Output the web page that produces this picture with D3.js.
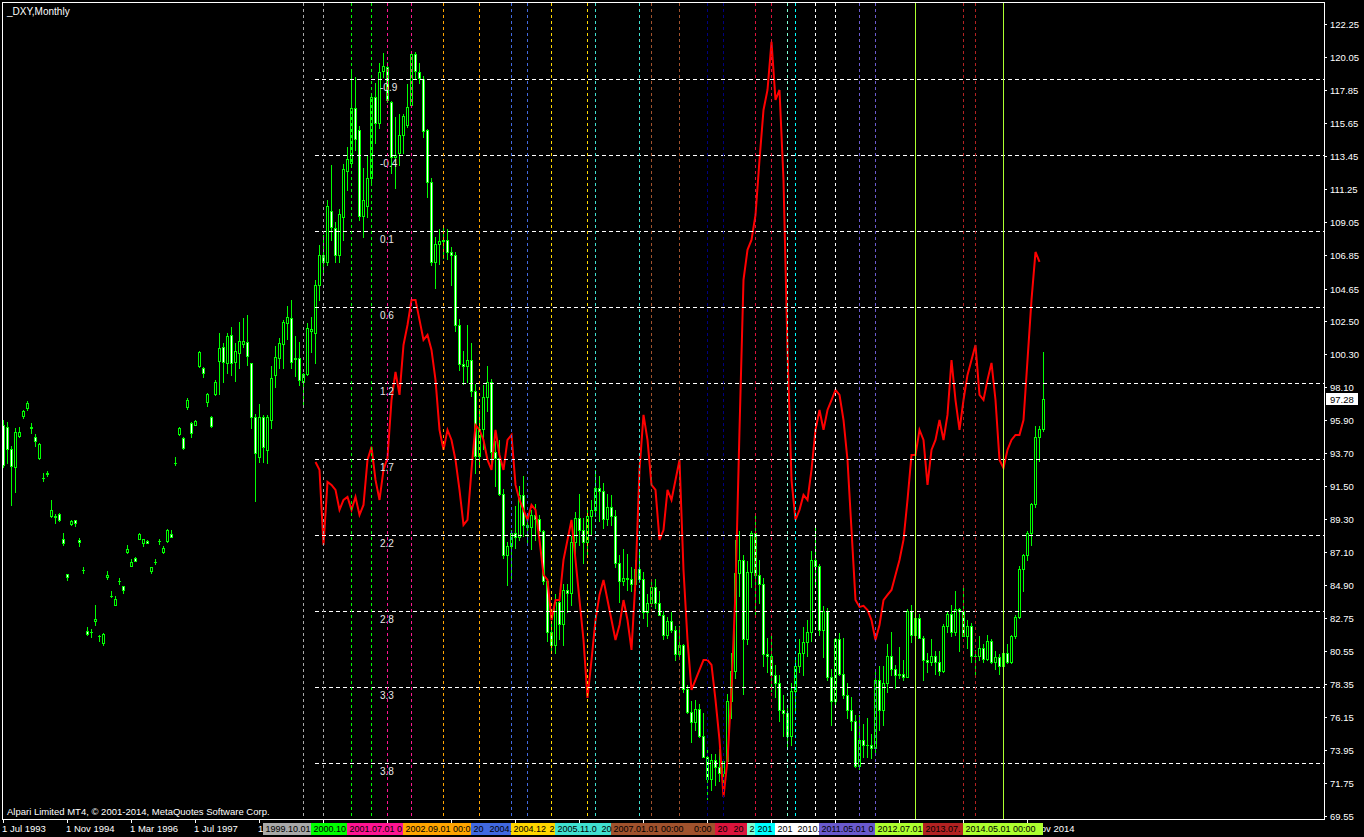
<!DOCTYPE html>
<html>
<head>
<meta charset="utf-8">
<script src="https://cdn.jsdelivr.net/npm/d3@7"></script>
<style>
  html, body { margin: 0; padding: 0; background: #000; overflow: hidden; }
  svg { display: block; }
  text { font-family: "Liberation Sans", Arial, sans-serif; font-size: 9.5px; }
</style>
</head>
<body>
<svg id="chart"></svg>
<script>
// _DXY monthly bars, first bar = Jul 1993
var startYear = 1993, startMonth = 7;

var open = [
  95.57,95.44,93.97,92.78,94.84,96.17,96.70,95.44,94.77,93.37,
  92.04,92.38,89.51,89.51,89.65,87.99,85.66,88.98,89.25,87.92,
  85.92,81.86,81.80,82.53,81.53,81.06,85.46,84.19,83.59,85.19,
  84.86,87.12,86.19,86.72,87.99,87.72,87.85,85.86,86.45,87.85,
  87.12,87.85,88.32,93.04,94.97,94.71,96.77,95.70,95.57,99.50,
  99.36,97.10,96.10,97.63,99.83,100.76,99.70,101.56,99.76,100.36,
  100.96,101.09,99.70,96.10,93.44,96.10,93.91,95.90,98.90,100.03,
  100.96,102.36,102.69,99.96,100.03,98.43,98.96,101.82,101.69,104.89,
  106.88,106.42,109.81,108.68,106.88,109.41,112.47,113.00,116.66,115.20,
  109.48,110.14,112.01,117.40,115.67,119.13,119.39,117.06,113.40,113.67,
  114.87,115.53,116.86,120.26,119.06,118.59,115.20,111.74,106.42,107.60,
  107.80,107.90,107.10,106.90,102.20,99.60,99.50,99.90,97.80,93.50,
  95.30,97.40,98.40,93.80,93.40,91.00,86.90,87.50,88.40,88.10,
  90.90,88.90,88.80,89.60,89.30,88.50,85.20,81.80,80.90,83.80,
  82.30,84.60,84.40,87.80,89.40,88.60,87.80,89.50,89.90,91.40,
  91.20,89.30,90.10,89.50,86.40,85.20,85.40,85.30,85.00,86.00,
  85.30,83.10,83.70,84.80,83.70,82.90,81.60,82.50,81.90,80.30,
  80.90,78.00,76.50,75.80,76.70,74.90,73.50,72.00,73.30,72.80,
  72.40,73.20,77.20,79.20,85.70,86.60,81.30,85.80,88.40,85.60,
  85.00,80.30,80.20,78.90,78.40,76.60,76.40,74.90,77.90,79.50,
  80.40,81.10,81.80,86.60,86.20,81.90,83.20,78.80,77.20,81.30,
  79.00,77.60,76.60,75.90,72.90,74.60,74.30,74.30,74.10,78.60,
  76.60,78.40,80.20,79.30,78.90,79.00,78.80,83.20,81.60,82.70,
  81.40,79.90,79.80,80.20,79.80,79.20,82.20,83.00,81.80,83.30,
  83.20,81.50,82.20,80.20,80.20,80.70,80.00,81.20,79.80,80.10,
  79.50,80.40,79.80,81.50,82.80,86.00,86.90,88.40,90.30,94.80,
  95.30
];
var high = [
  95.90,95.77,94.17,95.37,95.44,96.57,97.17,95.70,94.97,94.37,
  92.38,92.51,90.58,89.65,89.72,88.38,85.66,89.25,89.25,88.05,
  86.12,82.13,82.00,83.59,81.60,81.73,85.86,84.52,84.19,85.39,
  84.86,87.59,86.65,86.79,88.38,87.99,87.92,86.12,86.65,87.99,
  87.52,88.65,88.58,93.44,95.44,94.77,97.37,95.77,95.90,100.49,
  99.43,97.70,96.17,98.56,101.69,101.03,101.69,102.09,101.03,102.42,
  102.69,102.89,99.70,96.30,96.97,96.24,96.24,99.50,100.83,101.36,
  102.56,103.49,103.89,101.49,101.09,99.03,102.36,102.76,105.22,107.55,
  108.21,110.54,112.87,109.08,109.94,112.94,114.07,119.26,118.73,115.47,
  112.67,113.54,117.66,118.33,119.66,120.32,119.72,117.13,116.06,116.26,
  116.26,118.26,120.32,120.39,119.66,118.79,115.27,112.01,108.10,108.60,
  108.80,108.60,107.40,107.10,102.60,100.50,102.20,101.00,98.30,96.60,
  98.20,99.50,98.60,94.50,94.60,91.30,87.80,88.60,90.20,91.50,
  92.20,89.70,89.90,90.30,89.60,88.60,85.30,82.50,84.30,84.40,
  85.00,85.00,88.20,89.80,91.00,89.40,90.00,90.60,92.60,92.20,
  91.70,91.00,90.90,89.90,86.90,87.30,87.00,86.10,86.60,87.30,
  85.80,84.30,85.30,85.30,84.50,83.20,82.80,83.10,82.20,82.20,
  81.00,78.30,77.20,77.30,77.00,76.40,74.10,73.70,73.70,74.00,
  73.30,77.70,80.40,87.90,88.50,86.90,86.50,88.50,89.60,86.60,
  85.40,81.40,81.50,79.60,78.90,77.60,76.80,78.40,80.00,81.30,
  82.10,82.60,87.20,88.70,86.30,83.50,83.40,79.30,81.40,81.70,
  81.40,78.40,77.50,76.30,76.30,75.70,76.10,75.00,79.20,79.50,
  79.50,81.00,81.80,79.60,80.80,79.90,83.30,83.60,84.10,83.00,
  81.50,80.40,81.30,80.50,80.50,82.30,83.20,83.60,84.50,83.40,
  84.80,82.60,82.40,80.60,81.50,81.00,81.60,81.30,80.50,80.30,
  80.60,81.00,81.60,82.90,86.20,87.00,88.50,90.40,95.50,95.50,
  100.40
];
var low = [
  92.78,93.04,90.25,91.11,94.77,96.04,96.57,95.04,94.17,93.31,
  91.84,92.18,89.45,89.05,89.18,87.59,85.26,88.92,88.85,87.52,
  85.72,81.60,81.46,82.26,81.20,80.93,85.32,84.13,83.59,84.99,
  84.39,87.05,86.19,86.52,87.99,87.52,87.72,85.72,86.32,87.65,
  87.05,87.79,88.12,92.91,94.91,93.97,96.64,94.77,95.57,99.43,
  98.76,96.83,95.44,97.57,97.63,98.43,99.03,98.90,98.50,99.36,
  100.76,99.56,95.37,90.51,93.11,93.11,93.04,95.37,98.10,99.36,
  99.36,101.29,99.36,98.83,98.23,96.83,98.90,100.43,99.70,103.89,
  105.55,106.22,107.88,106.42,106.42,107.88,111.21,112.87,113.87,109.21,
  108.08,109.41,111.67,114.33,115.33,118.73,117.06,112.34,111.34,112.87,
  113.67,115.40,116.80,118.66,118.33,114.73,110.74,106.22,104.70,106.30,
  106.70,106.60,104.90,101.80,99.20,98.30,98.40,97.50,92.40,92.90,
  94.00,96.50,92.70,91.50,90.90,86.70,84.90,85.40,87.40,87.90,
  88.20,87.80,87.30,87.90,87.70,85.00,81.20,80.40,80.40,81.30,
  80.90,83.10,83.60,87.00,87.60,86.40,86.80,88.30,89.50,89.20,
  88.70,88.90,88.90,86.10,83.80,84.90,84.60,84.50,84.60,85.10,
  82.70,82.20,83.50,83.40,82.90,81.30,81.40,81.80,79.90,80.00,
  77.80,76.40,74.50,75.30,74.80,73.50,70.70,71.30,71.60,71.90,
  71.30,73.00,76.10,78.70,84.20,77.70,81.00,84.80,82.80,83.70,
  79.50,79.10,77.90,77.50,75.90,74.90,74.20,74.30,76.60,79.10,
  78.90,80.20,81.20,85.00,81.60,80.10,78.60,75.60,76.80,78.90,
  77.40,76.10,75.30,72.80,72.70,73.50,73.50,73.40,73.80,75.30,
  75.60,77.80,78.90,78.10,78.70,78.60,78.80,81.10,81.30,81.40,
  78.60,79.10,79.60,79.00,78.90,79.10,81.80,81.50,81.60,80.50,
  81.50,80.70,79.80,79.00,79.90,79.80,79.90,79.70,79.30,79.00,
  78.90,79.70,79.70,81.40,82.70,84.50,86.60,87.60,90.10,93.20,
  95.20
];
var close = [
  92.91,93.97,92.84,95.10,95.10,96.50,97.03,95.37,94.51,94.31,
  92.04,92.31,89.91,89.45,89.25,87.72,85.46,89.18,89.05,87.79,
  85.92,81.66,81.80,82.66,81.53,81.66,85.59,84.19,83.99,85.19,
  84.59,87.32,86.45,86.52,88.32,87.99,87.72,86.12,86.45,87.85,
  87.39,88.58,88.12,93.04,95.37,94.04,97.23,95.04,95.84,100.43,
  99.03,97.63,95.50,98.43,100.69,99.76,101.49,99.70,100.49,101.16,
  101.16,100.16,96.10,93.71,96.10,94.11,96.10,98.70,100.10,101.03,
  102.42,102.76,99.76,100.03,98.56,98.96,102.02,101.96,104.89,106.88,
  106.42,110.14,108.75,106.88,109.61,112.60,113.27,116.66,114.60,109.48,
  110.54,112.01,117.40,115.67,119.06,119.46,117.20,113.40,113.54,114.87,
  116.13,116.73,120.26,119.13,118.66,115.13,111.74,106.42,107.60,107.80,
  107.90,107.10,106.90,102.20,99.60,99.50,99.90,97.80,93.50,95.30,
  97.40,98.40,93.80,93.40,91.00,86.90,87.50,88.40,88.10,90.90,
  88.90,88.80,89.60,89.30,88.50,85.20,81.80,80.90,83.80,82.30,
  84.60,84.40,87.80,89.40,88.60,87.80,89.50,89.90,91.40,91.20,
  89.30,90.10,89.50,86.40,85.20,85.40,85.30,85.00,86.00,85.30,
  83.10,83.70,84.80,83.70,82.90,81.60,82.50,81.90,80.30,80.90,
  78.00,76.50,75.80,76.70,74.90,73.50,72.00,73.30,72.80,72.40,
  73.20,77.20,79.20,85.70,86.60,81.30,85.80,88.40,85.60,85.00,
  80.30,80.20,78.90,78.40,76.60,76.40,74.90,77.90,79.50,80.40,
  81.10,81.80,86.60,86.20,81.90,83.20,78.80,77.20,81.30,79.00,
  77.60,76.60,75.90,72.90,74.60,74.30,74.30,74.10,78.60,76.60,
  78.40,80.20,79.30,78.90,79.00,78.80,83.20,81.60,82.70,81.40,
  79.90,79.80,80.20,79.80,79.20,82.20,83.00,81.80,83.30,83.20,
  81.50,82.20,80.20,80.20,80.70,80.00,81.20,79.80,80.10,79.50,
  80.40,79.80,81.50,82.80,86.00,86.90,88.40,90.30,94.80,95.30,
  97.28
];

// red overlay line, one value per bar starting at bar 78 (Jan 2000)
var redStart = 78;
var redLine = [
  93.11,92.58,87.58,91.78,91.58,91.25,89.92,90.58,90.78,89.92,
  90.78,89.58,90.25,93.24,94.11,91.91,90.58,92.58,93.38,97.23,
  99.10,97.57,100.89,102.22,103.89,103.89,102.56,101.23,101.56,100.56,
  98.57,95.24,93.91,95.24,94.57,93.24,91.25,88.92,89.25,92.58,
  95.57,95.24,94.57,93.24,92.58,95.24,93.57,92.58,94.57,94.91,
  91.58,90.58,89.92,89.25,90.25,89.92,87.92,85.59,85.26,82.59,
  83.92,83.92,86.59,87.92,89.25,86.59,83.92,81.26,77.41,79.93,
  82.59,84.26,85.26,83.92,82.59,81.26,82.26,83.92,82.59,80.60,
  85.26,92.58,96.24,94.57,91.58,91.25,87.92,88.58,91.25,90.58,
  91.91,93.24,85.92,81.26,77.94,78.60,79.27,79.93,79.93,79.60,
  77.27,74.61,70.82,73.28,77.94,84.59,95.24,105.22,107.22,107.88,
  109.54,113.20,116.53,117.86,121.06,117.20,117.86,111.87,100.56,91.91,
  89.25,89.92,90.91,90.58,92.58,95.24,96.57,95.24,96.57,97.23,
  97.90,97.57,95.90,93.24,88.58,83.92,83.46,83.53,83.26,82.59,
  81.26,82.26,83.92,84.26,84.59,85.59,86.59,87.92,90.58,93.57,
  93.57,95.24,94.57,91.58,93.91,94.57,95.90,94.57,96.24,99.89,
  97.23,95.24,97.23,98.90,99.89,100.89,97.57,97.23,98.57,99.70,
  97.23,93.24,92.71,93.91,94.57,94.91,94.91,95.90,99.89,103.89,
  107.08,106.42
];

var priceTicks = [122.25,120.05,117.85,115.65,113.45,111.25,109.05,106.85,104.65,102.50,
  100.30,98.10,95.90,93.70,91.50,89.30,87.10,84.90,82.75,80.55,78.35,76.15,73.95,71.75,69.55];
var lastPrice = 97.28;

var fibLevels = [118.59,113.54,108.48,103.42,98.37,93.31,88.25,83.19,78.14,73.08];
var fibLabels = ["-0.9","-0.4","0.1","0.6","1.2","1.7","2.2","2.8","3.3","3.8"];

// vertical line objects
var vlineDates  = ["1999.10","2000.03","2000.10","2001.03","2001.07","2002.01","2002.09","2003.06",
  "2004.02","2004.06","2004.12","2005.09","2005.11","2006.10","2007.01","2007.08","2008.03","2008.07",
  "2009.03","2009.07","2009.11","2010.01","2010.06","2010.11","2011.05","2011.09","2012.07",
  "2013.07","2013.10","2014.05"];
var vlineColors = ["darkgray","darkgray","#00ff00","#00ff00","deeppink","deeppink","orange","orange",
  "royalblue","royalblue","gold","gold","turquoise","turquoise","sienna","sienna","navy","navy",
  "crimson","crimson","aquamarine","aqua","white","white","slateblue","slateblue","greenyellow",
  "firebrick","firebrick","greenyellow"];
var vlineSolid = ["2012.07","2014.05"];
// time-scale tags of those lines, painted bottom first
var tagOrder = ["2000.03","1999.10","2001.03","2000.10","2002.01","2001.07","2003.06","2002.09",
  "2004.02","2004.06","2004.12","2005.09","2005.11","2006.10","2007.08","2007.01",
  "2009.03","2009.07","2009.11","2010.01","2010.06","2010.11","2011.09","2011.05","2012.07",
  "2013.10","2013.07","2014.05"];

var monthNames = ["Jan","Feb","Mar","Apr","May","Jun","Jul","Aug","Sep","Oct","Nov","Dec"];

var W = 1364, H = 837;
var plotRight = 1324, plotBottom = 819;
var tagW = 80;

var svg = d3.select("#chart").attr("width", W).attr("height", H);
svg.append("rect").attr("width", W).attr("height", H).attr("fill", "#000");

var x = d3.scaleLinear().domain([0, 330]).range([3, 1323]);
var y = d3.scaleLinear().domain([69.55, 122.25]).range([816, 24]);
var py = function(v) { return Math.round(y(v)); };

var barIndex = function(s) {
  var p = s.split(".");
  return (+p[0] - startYear) * 12 + (+p[1] - startMonth);
};
var colorOf = function(s) { return vlineColors[vlineDates.indexOf(s)]; };
var tagLeft = function(s) { return x(barIndex(s)) - tagW / 2; };

// candles
var bars = d3.range(open.length);
var top_ = d => py(Math.max(open[d], close[d]));
var bot_ = d => py(Math.min(open[d], close[d]));
var cg = svg.append("g").attr("shape-rendering", "crispEdges");
cg.selectAll(".wick").data(bars).enter().append("rect")
  .attr("x", d => x(d))
  .attr("y", d => py(high[d]))
  .attr("width", 1)
  .attr("height", d => py(low[d]) - py(high[d]) + 1)
  .attr("fill", "#00ff00");
cg.selectAll(".body").data(bars).enter().append("rect")
  .attr("x", d => x(d) - 1)
  .attr("y", top_)
  .attr("width", 3)
  .attr("height", d => bot_(d) - top_(d) + 1)
  .attr("fill", "#00ff00");
cg.selectAll(".inner").data(bars.filter(d => bot_(d) - top_(d) >= 2))
  .enter().append("rect")
  .attr("x", d => x(d))
  .attr("y", d => top_(d) + 1)
  .attr("width", 1)
  .attr("height", d => bot_(d) - top_(d) - 1)
  .attr("fill", d => close[d] >= open[d] ? "#000" : "#fff");

// red line
svg.append("path")
  .datum(redLine)
  .attr("fill", "none")
  .attr("stroke", "#ff0000")
  .attr("stroke-width", 2)
  .attr("d", d3.line()
    .x((d, k) => x(redStart + k) + 0.5)
    .y(d => y(d)));

// fibo levels
var fg = svg.append("g");
fg.selectAll("line").data(fibLevels).enter().append("line")
  .attr("x1", x(redStart)).attr("x2", plotRight)
  .attr("y1", d => py(d) + 0.5).attr("y2", d => py(d) + 0.5)
  .attr("stroke", "#fff").attr("stroke-dasharray", "4,3");
fg.selectAll("text").data(fibLevels).enter().append("text")
  .attr("x", 380).attr("y", d => py(d) + 12)
  .attr("fill", "#e8e8e8")
  .style("font-size", "10px")
  .text((d, k) => fibLabels[k]);

// vertical lines
svg.append("g").selectAll("line").data(vlineDates).enter().append("line")
  .attr("x1", d => x(barIndex(d)) + 0.5).attr("x2", d => x(barIndex(d)) + 0.5)
  .attr("y1", 3).attr("y2", plotBottom)
  .attr("stroke", (d, k) => vlineColors[k])
  .attr("stroke-dasharray", d => vlineSolid.indexOf(d) >= 0 ? null : "3,3");

// frame
svg.append("rect")
  .attr("x", 2.5).attr("y", 2.5)
  .attr("width", plotRight - 2).attr("height", plotBottom - 2)
  .attr("fill", "none").attr("stroke", "#fff");

// price axis
var ag = svg.append("g");
ag.selectAll("line").data(priceTicks).enter().append("line")
  .attr("x1", plotRight).attr("x2", plotRight + 3)
  .attr("y1", d => py(d) + 0.5).attr("y2", d => py(d) + 0.5)
  .attr("stroke", "#fff");
ag.selectAll("text").data(priceTicks).enter().append("text")
  .attr("x", plotRight + 6).attr("y", d => py(d) + 4)
  .attr("fill", "#fff")
  .text(d => d.toFixed(2));
ag.append("rect")
  .attr("x", plotRight + 2).attr("y", py(lastPrice) - 6)
  .attr("width", 32).attr("height", 12).attr("fill", "#fff");
ag.append("text")
  .attr("x", plotRight + 6).attr("y", py(lastPrice) + 4)
  .attr("fill", "#000").text(lastPrice.toFixed(2));

// --- time scale: labels, then the object tags painted over them ---
// writes only the characters that are not hidden by the given covers
function visibleRuns(a, b, covers) {
  var runs = [[a, b]];
  covers.forEach(function(c) {
    var next = [];
    runs.forEach(function(r) {
      if (c[1] <= r[0] || c[0] >= r[1]) { next.push(r); return; }
      if (c[0] > r[0]) next.push([r[0], c[0]]);
      if (c[1] < r[1]) next.push([c[1], r[1]]);
    });
    runs = next;
  });
  return runs;
}
function writeVisible(g, tx, ty, str, fill, runs, slack, size) {
  var probe = g.append("text").attr("x", tx).attr("y", ty).style("font-size", size).text(str);
  var node = probe.node();
  var groups = [];
  for (var c = 0; c < str.length; c++) {
    var e = node.getExtentOfChar(c);
    var ri = runs.findIndex(r => e.x >= r[0] - slack && e.x + e.width <= r[1] + slack);
    var last = groups[groups.length - 1];
    if (ri < 0 || str[c] === " " && !(last && !last.closed)) { if (last) last.closed = true; continue; }
    if (last && !last.closed && last.run === ri) last.str += str[c];
    else groups.push({run: ri, x: e.x, str: str[c]});
  }
  probe.remove();
  groups.forEach(function(gr) {
    var s = gr.str.replace(/\s+$/, "");
    if (!s.length) return;
    g.append("text").attr("x", gr.x).attr("y", ty).attr("fill", fill)
      .style("font-size", size).text(s);
  });
}

var tagBoxes = tagOrder.map(d => [tagLeft(d), tagLeft(d) + tagW]);

var timeTicks = d3.range(0, open.length, 16);
var tg = svg.append("g");
tg.selectAll("line").data(timeTicks).enter().append("line")
  .attr("x1", d => x(d) + 0.5).attr("x2", d => x(d) + 0.5)
  .attr("y1", plotBottom).attr("y2", plotBottom + 4)
  .attr("stroke", "#fff");
timeTicks.forEach(function(d) {
  var m = startMonth - 1 + d;
  var label = "1 " + monthNames[m % 12] + " " + (startYear + Math.floor(m / 12));
  writeVisible(tg, x(d) - 1, 832, label, "#fff",
    visibleRuns(x(d) - 1, x(d) + 70, tagBoxes), 3, "9.5px");
});

var tagG = svg.append("g");
tagOrder.forEach(function(d) {
  tagG.append("rect").attr("x", tagLeft(d)).attr("y", 823)
    .attr("width", tagW).attr("height", 12).attr("fill", colorOf(d));
});
tagOrder.forEach(function(d, k) {
  var l = tagLeft(d);
  var runs = visibleRuns(l + 1, l + tagW - 1, tagBoxes.slice(k + 1));
  writeVisible(tagG, l + 2.5, 832, d + ".01 00:00", "#000", runs, 1.5, "9px");
});

// titles
svg.append("text").attr("x", 7).attr("y", 15).attr("fill", "#fff")
  .style("font-size", "10px").text("_DXY,Monthly");
svg.append("text").attr("x", 7).attr("y", 815).attr("fill", "#fff")
  .text("Alpari Limited MT4, \u00a9 2001-2014, MetaQuotes Software Corp.");
</script>
</body>
</html>
